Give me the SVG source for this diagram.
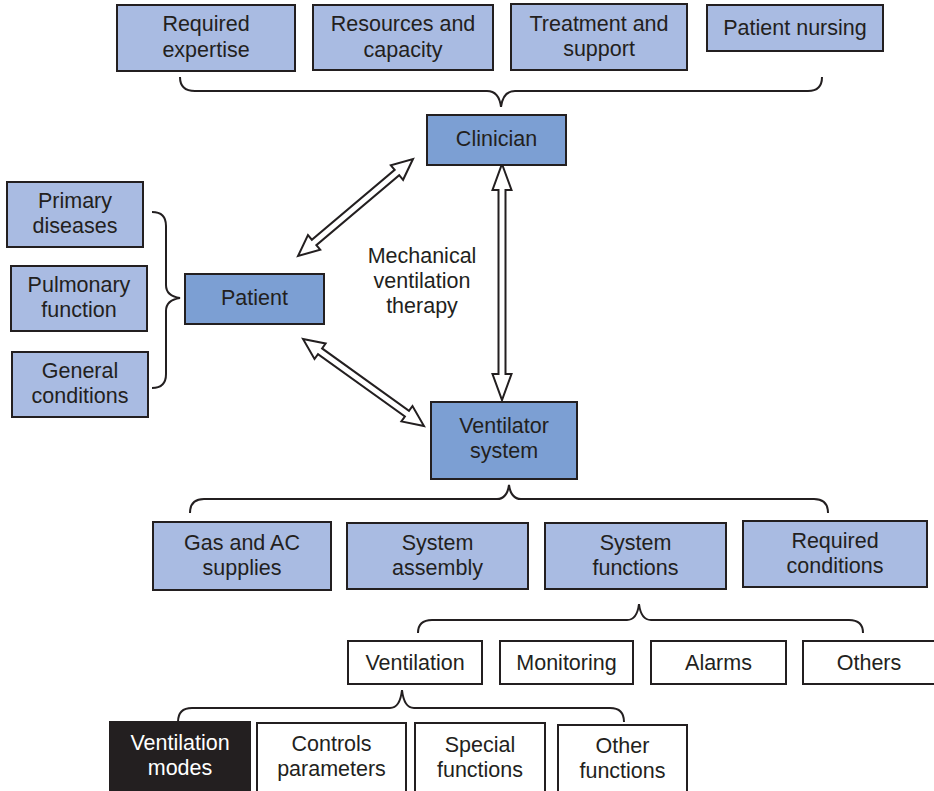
<svg xmlns="http://www.w3.org/2000/svg" width="934" height="791" viewBox="0 0 934 791">
<style>
.box rect{stroke:#231f20;stroke-width:2}
.lt rect{fill:#a9bbe2}
.dk rect{fill:#7c9fd3}
.wh rect{fill:#ffffff}
.bk rect{fill:#231f20}
text{font-family:"Liberation Sans",Arial,sans-serif;font-size:21.5px;fill:#231f20;text-anchor:middle}
.bk text{fill:#ffffff}
.brace{fill:none;stroke:#231f20;stroke-width:2}
.arr{fill:#ffffff;stroke:#231f20;stroke-width:2;stroke-linejoin:miter}
</style>
<rect width="934" height="791" fill="#ffffff"/>
<g id="connectors">
<path class="brace" d="M180,77 Q180,91 195,91 L487,91 Q499,91 501,107 Q503,91 515,91 L808,91 Q822,91 822,77"/>
<path class="brace" d="M152,212 Q166,212 166,226 L166,285 Q166,296 180,298 Q166,300 166,311 L166,374 Q166,388 152,388"/>
<path class="brace" d="M190,513 Q190,499 204,499 L497,499 Q507,499 509,485 Q511,499 521,499 L814,499 Q828,499 828,513"/>
<path class="brace" d="M418,633 Q418,620 432,620 L627,620 Q637,620 639,604 Q641,620 651,620 L849,620 Q863,620 863,633"/>
<path class="brace" d="M178,722 Q178,708 192,708 L390,708 Q400,708 402,690 Q404,708 414,708 L610,708 Q624,708 624,722"/>
<polygon class="arr" transform="translate(502,164) rotate(90)" points="0,0 26,-9.5 26,-3.5 210,-3.5 210,-9.5 236,0 210,9.5 210,3.5 26,3.5 26,9.5"/>
<polygon class="arr" transform="translate(413,159) rotate(139.85)" points="0,0 21,-9.5 21,-3.5 129.4,-3.5 129.4,-9.5 150.4,0 129.4,9.5 129.4,3.5 21,3.5 21,9.5"/>
<polygon class="arr" transform="translate(303,339) rotate(35.71)" points="0,0 21,-9.5 21,-3.5 128,-3.5 128,-9.5 149,0 128,9.5 128,3.5 21,3.5 21,9.5"/>
</g>
<g id="required-expertise" class="box lt"><rect x="117" y="5" width="178" height="66"/><text x="206" y="31">Required</text><text x="206" y="57">expertise</text></g>
<g id="resources-capacity" class="box lt"><rect x="313" y="5" width="180" height="65"/><text x="403" y="31">Resources and</text><text x="403" y="57">capacity</text></g>
<g id="treatment-support" class="box lt"><rect x="511" y="4" width="176" height="66"/><text x="599" y="31">Treatment and</text><text x="599" y="56">support</text></g>
<g id="patient-nursing" class="box lt"><rect x="707" y="5" width="176" height="46"/><text x="795" y="35">Patient nursing</text></g>
<g id="clinician" class="box dk"><rect x="427" y="115" width="139" height="50"/><text x="496.5" y="146">Clinician</text></g>
<g id="primary-diseases" class="box lt"><rect x="7" y="182" width="136" height="65"/><text x="75" y="208">Primary</text><text x="75" y="233">diseases</text></g>
<g id="pulmonary-function" class="box lt"><rect x="11" y="266" width="136" height="65"/><text x="79" y="292">Pulmonary</text><text x="79" y="317">function</text></g>
<g id="general-conditions" class="box lt"><rect x="12" y="352" width="136" height="65"/><text x="80" y="378">General</text><text x="80" y="403">conditions</text></g>
<g id="patient" class="box dk"><rect x="185" y="274" width="139" height="50"/><text x="254.5" y="305">Patient</text></g>
<g id="therapy-label"><text x="422" y="263">Mechanical</text><text x="422" y="288">ventilation</text><text x="422" y="313">therapy</text></g>
<g id="ventilator-system" class="box dk"><rect x="431" y="402" width="146" height="77"/><text x="504" y="433">Ventilator</text><text x="504" y="458">system</text></g>
<g id="gas-ac" class="box lt"><rect x="153" y="522" width="178" height="68"/><text x="242" y="550">Gas and AC</text><text x="242" y="575">supplies</text></g>
<g id="system-assembly" class="box lt"><rect x="347" y="523" width="181" height="66"/><text x="437.5" y="550">System</text><text x="437.5" y="575">assembly</text></g>
<g id="system-functions" class="box lt"><rect x="545" y="523" width="181" height="66"/><text x="635.5" y="550">System</text><text x="635.5" y="575">functions</text></g>
<g id="required-conditions" class="box lt"><rect x="743" y="521" width="184" height="66"/><text x="835" y="548">Required</text><text x="835" y="573">conditions</text></g>
<g id="ventilation" class="box wh"><rect x="348" y="641" width="134" height="43"/><text x="415" y="670">Ventilation</text></g>
<g id="monitoring" class="box wh"><rect x="500" y="641" width="133" height="43"/><text x="566.5" y="670">Monitoring</text></g>
<g id="alarms" class="box wh"><rect x="651" y="641" width="135" height="43"/><text x="718.5" y="670">Alarms</text></g>
<g id="others" class="box wh"><rect x="803" y="641" width="140" height="43"/><text x="869" y="670">Others</text></g>
<g id="ventilation-modes" class="box bk"><rect x="110" y="722" width="140" height="80"/><text x="180" y="750">Ventilation</text><text x="180" y="775">modes</text></g>
<g id="controls-parameters" class="box wh"><rect x="257" y="723" width="149" height="80"/><text x="331.5" y="751">Controls</text><text x="331.5" y="776">parameters</text></g>
<g id="special-functions" class="box wh"><rect x="415" y="723" width="130" height="80"/><text x="480" y="752">Special</text><text x="480" y="777">functions</text></g>
<g id="other-functions" class="box wh"><rect x="558" y="725" width="129" height="80"/><text x="622.5" y="753">Other</text><text x="622.5" y="778">functions</text></g>
</svg>
